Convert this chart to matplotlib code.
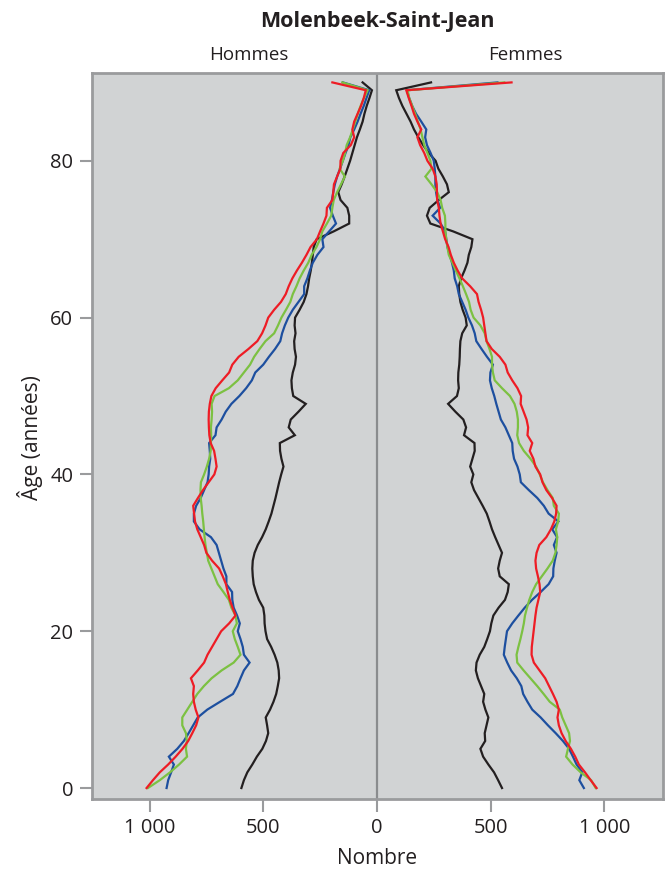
import matplotlib
matplotlib.use("Agg")
import matplotlib.pyplot as plt
import numpy as np

ages = list(range(0, 91))

# Hommes (men)
men_black = [596,585,570,548,528,504,488,478,483,489,470,455,443,436,430,432,438,450,465,483,
             490,494,495,500,519,532,542,546,548,546,538,524,505,489,476,464,455,446,438,430,
             421,411,420,426,427,361,388,379,345,313,368,374,376,370,360,356,362,364,358,362,
             360,340,322,310,303,298,291,286,282,278,265,190,122,122,130,160,170,155,142,130,
             118,108,98,88,75,63,55,45,33,22,63]
men_blue = [925,918,905,893,915,878,849,828,808,788,746,690,633,614,600,585,560,585,590,600,
            612,603,615,630,636,637,662,662,675,685,695,705,730,780,805,805,795,775,760,745,
            740,738,733,735,738,710,705,683,665,640,605,575,550,535,500,475,448,425,417,405,
            390,370,345,320,320,306,295,282,262,235,240,210,180,194,206,198,192,185,175,162,
            150,138,125,117,100,85,72,58,46,34,150]
men_green = [1007,955,910,870,835,840,836,840,856,856,834,812,790,761,727,683,630,600,612,625,
             634,616,622,640,651,675,700,714,728,742,748,754,758,761,764,768,771,775,776,774,
             760,748,738,731,730,729,730,727,725,727,714,651,612,585,558,540,516,490,452,435,
             420,400,381,370,354,340,322,302,287,266,250,240,220,201,196,190,175,158,141,164,
             150,140,133,118,106,95,84,72,57,41,152]
men_red = [1013,985,955,918,885,855,830,812,795,785,797,805,808,805,818,788,760,745,725,705,
           685,650,622,635,647,656,664,678,694,725,750,760,775,790,800,804,808,787,765,740,
           715,705,710,716,731,737,739,740,739,735,728,709,680,650,636,608,565,526,505,490,
           478,452,422,401,388,372,352,330,310,292,264,250,235,222,220,196,192,189,175,161,
           160,148,115,100,108,100,85,70,58,49,196]

# Femmes (women)
women_black = [550,533,515,490,467,455,476,474,482,490,477,467,472,458,444,435,438,452,472,485,
               497,503,512,535,563,575,580,540,533,540,550,535,520,506,495,483,465,446,427,415,
               424,410,420,430,429,383,392,380,345,313,352,360,357,358,362,364,365,367,375,395,
               390,377,367,362,360,370,385,398,404,415,420,335,235,220,232,272,316,308,290,270,
               258,228,203,182,163,148,130,112,97,85,238]
women_blue = [910,890,903,878,862,845,818,786,752,720,683,662,643,635,615,590,573,558,562,567,
              572,595,622,650,682,720,755,775,776,782,790,778,792,771,798,755,734,705,668,633,
              628,618,603,597,595,580,565,545,535,525,516,505,497,499,510,484,460,437,430,418,
              402,390,375,360,353,342,338,330,320,310,305,300,280,245,278,266,260,257,257,254,
              250,236,220,212,217,195,172,155,142,132,530]
women_green = [962,942,896,860,832,840,849,845,830,815,804,760,733,705,675,645,617,614,622,631,
               639,646,651,660,670,683,700,725,750,773,785,790,793,787,797,800,778,773,750,730,
               716,700,675,646,625,617,620,620,615,605,585,550,518,510,506,506,495,482,474,455,
               425,412,405,392,378,363,347,332,316,310,305,301,301,299,287,280,265,240,213,240,
               235,222,208,200,192,180,168,155,142,135,560]
women_red = [966,940,915,888,872,853,830,812,800,794,800,790,774,757,740,715,690,680,681,685,
             689,693,697,702,710,718,715,708,700,697,702,714,745,765,780,788,790,770,745,728,
             718,697,688,672,683,662,665,658,645,632,634,618,595,575,565,540,505,482,477,472,
             467,458,447,440,410,375,355,338,325,315,300,290,280,275,272,265,264,263,257,245,
             222,208,190,178,195,178,163,152,140,129,592]

xticks = [-1000, -500, 0, 500, 1000]
xticklabels = ["1 000", "500", "0", "500", "1 000"]
yticks = [0, 20, 40, 60, 80]

colors = {"black": "#231f20", "blue": "#1d4f9f", "green": "#7cc142", "red": "#ee1c25"}

plt.rcParams['font.family'] = ['Open Sans', 'DejaVu Sans']
TXT = "#231f20"
GRID = "#9a9b9d"

fig = plt.figure(figsize=(6.67, 8.72), dpi=100)
ax = fig.add_axes([92/667, 1-799/872, (663-92)/667, (799-73)/872])
ax.set_facecolor("#d1d3d4")

series = [(men_black, women_black, "black"), (men_blue, women_blue, "blue"),
          (men_green, women_green, "green"), (men_red, women_red, "red")]
for m, w, c in series:
    ax.plot(-np.array(m), ages, color=colors[c], lw=1.6, solid_joinstyle='miter')
    ax.plot(np.array(w), ages, color=colors[c], lw=1.6, solid_joinstyle='miter')

ax.axvline(0, color="#8a8c8e", lw=1.6, zorder=0.5)

ax.set_xlim(-1253, 1258)
ax.set_ylim(-1.4, 91.2)
ax.set_xticks(xticks)
ax.set_xticklabels(xticklabels)
ax.set_yticks(yticks)
for sp in ax.spines.values():
    sp.set_color(GRID)
    sp.set_linewidth(2.0)
ax.tick_params(axis='x', direction='out', length=9, width=1.5, color=GRID,
               labelsize=14.5, labelcolor=TXT, pad=5)
ax.tick_params(axis='y', direction='out', length=8.5, width=1.5, color=GRID,
               labelsize=14.5, labelcolor=TXT, pad=5)

fig.text(377/667, 1-858/872, "Nombre", ha='center', va='center', fontsize=15, color=TXT)
fig.text(30/667, 1-438/872, "Âge (années)", ha='center', va='center', rotation=90,
         fontsize=15, color=TXT)

fig.text(377/667, 1-21/872, "Molenbeek-Saint-Jean", ha='center', va='center',
         fontsize=15.5, fontweight='bold', color=TXT)
fig.text(249/667, 1-55/872, "Hommes", ha='center', va='center', fontsize=13.5, color=TXT)
fig.text(525/667, 1-55/872, "Femmes", ha='center', va='center', fontsize=13.5, color=TXT)

fig.savefig("out.png", dpi=100)
